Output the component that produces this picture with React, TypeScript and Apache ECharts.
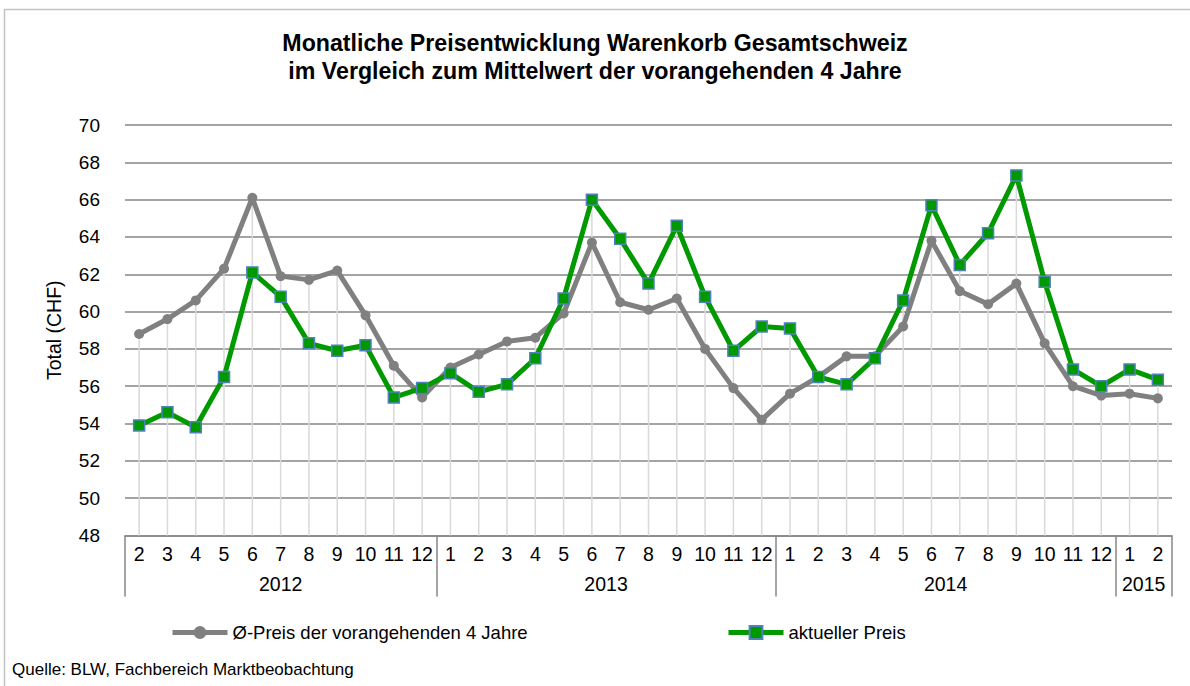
import React, { useEffect, useRef } from "react";
import * as echarts from "echarts";

const months = [
  "2", "3", "4", "5", "6", "7", "8", "9", "10", "11", "12",
  "1", "2", "3", "4", "5", "6", "7", "8", "9", "10", "11", "12",
  "1", "2", "3", "4", "5", "6", "7", "8", "9", "10", "11", "12",
  "1", "2",
];
const years = ["2012", "2013", "2014", "2015"];
const yearBounds = [0, 11, 23, 35, 37];
const yearCenters = [5.5, 17, 29, 36];

const avgPrice = [
  58.8, 59.6, 60.6, 62.3, 66.1, 61.9, 61.7, 62.2, 59.8, 57.1, 55.4,
  57.0, 57.7, 58.4, 58.6, 59.9, 63.7, 60.5, 60.1, 60.7, 58.0, 55.9, 54.2,
  55.6, 56.5, 57.6, 57.6, 59.2, 63.8, 61.1, 60.4, 61.5, 58.3, 56.0, 55.5,
  55.6, 55.35,
];
const curPrice = [
  53.9, 54.6, 53.8, 56.5, 62.1, 60.8, 58.3, 57.9, 58.2, 55.4, 55.9,
  56.7, 55.7, 56.1, 57.5, 60.7, 66.0, 63.9, 61.5, 64.6, 60.8, 57.9, 59.2,
  59.1, 56.5, 56.1, 57.5, 60.6, 65.7, 62.5, 64.2, 67.3, 61.6, 56.9, 56.0,
  56.9, 56.35,
];

const seriesNames = ["Ø-Preis der vorangehenden 4 Jahre", "aktueller Preis"];
const FONT = "'Liberation Sans', Arial, sans-serif";

export default function App() {
  const ref = useRef<HTMLDivElement>(null);
  useEffect(() => {
    if (!ref.current) return;
    const chart = echarts.init(ref.current, null, { renderer: "svg" });
    const dropData = months.map((_, i) => [i, Math.max(avgPrice[i], curPrice[i])]);
    const legendBase = {
      top: 623,
      padding: 0,
      itemWidth: 55,
      itemHeight: 16,
      lineStyle: { width: 5 },
      textStyle: { fontFamily: FONT, fontSize: 18.5, color: "#000" },
    };
    chart.setOption({
      animation: false,
      backgroundColor: "#ffffff",
      textStyle: { fontFamily: FONT },
      legend: [
        { ...legendBase, data: [seriesNames[0]], left: 170 },
        { ...legendBase, data: [seriesNames[1]], left: 726 },
      ],
      grid: { left: 125, right: 18, top: 125, bottom: 150.5 },
      xAxis: [
        {
          type: "category",
          data: months,
          boundaryGap: true,
          axisLine: { show: true, lineStyle: { color: "#868686", width: 1.5 } },
          axisTick: { show: false },
          axisLabel: {
            interval: 0,
            margin: 8,
            fontFamily: FONT,
            fontSize: 19.5,
            color: "#000",
          },
          splitLine: { show: false },
        },
        {
          type: "value",
          position: "bottom",
          min: 0,
          max: 37,
          axisLine: { show: false },
          splitLine: { show: false },
          axisTick: {
            show: true,
            customValues: yearBounds,
            length: 61,
            lineStyle: { color: "#868686", width: 1.5 },
          },
          axisLabel: {
            customValues: yearCenters,
            margin: 38,
            fontFamily: FONT,
            fontSize: 19.5,
            color: "#000",
            formatter: (v: number) => {
              const k = yearCenters.indexOf(v);
              return k >= 0 ? years[k] : "";
            },
          },
        },
      ],
      yAxis: {
        type: "value",
        min: 48,
        max: 70,
        interval: 2,
        name: "Total (CHF)",
        nameLocation: "middle",
        nameGap: 61,
        nameTextStyle: { fontFamily: FONT, fontSize: 19.5, color: "#000" },
        axisLine: { show: false },
        axisTick: { show: false },
        axisLabel: { margin: 25, fontFamily: FONT, fontSize: 19, color: "#000" },
        splitLine: { show: true, lineStyle: { color: "#868686", width: 1.5 } },
      },
      graphic: [
        {
          type: "rect",
          shape: { x: 4.5, y: 9.5, width: 1200, height: 700 },
          style: { fill: "none", stroke: "#c3c3c3", lineWidth: 1.5 },
          silent: true,
          z: -10,
        },
        {
          type: "text",
          x: 595,
          y: 29,
          style: {
            text: "Monatliche Preisentwicklung Warenkorb Gesamtschweiz\nim Vergleich zum Mittelwert der vorangehenden 4 Jahre",
            fontFamily: FONT,
            fontSize: 23.2,
            fontWeight: "bold",
            lineHeight: 28,
            fill: "#000",
            align: "center",
            verticalAlign: "top",
          },
        },
        {
          type: "text",
          x: 12,
          y: 661,
          style: {
            text: "Quelle: BLW, Fachbereich Marktbeobachtung",
            fontFamily: FONT,
            fontSize: 17,
            fill: "#000",
          },
        },
      ],
      series: [
        {
          type: "custom",
          name: "drop",
          silent: true,
          z: 1,
          data: dropData,
          renderItem: (params: any, api: any) => {
            const i = api.value(0);
            const top = api.value(1);
            const p1 = api.coord([i, top]);
            const p2 = api.coord([i, 48]);
            return {
              type: "line",
              shape: { x1: p1[0], y1: p1[1], x2: p2[0], y2: p2[1] },
              style: { stroke: "#d9d9d9", lineWidth: 1.5 },
            };
          },
        },
        {
          type: "line",
          name: seriesNames[0],
          data: avgPrice,
          z: 3,
          symbol: "circle",
          symbolSize: 10,
          lineStyle: { color: "#808080", width: 5 },
          itemStyle: { color: "#808080" },
        },
        {
          type: "line",
          name: seriesNames[1],
          data: curPrice,
          z: 4,
          symbol: "rect",
          symbolSize: 11,
          lineStyle: { color: "#009900", width: 5 },
          itemStyle: { color: "#009900", borderColor: "#4f81bd", borderWidth: 1.5 },
        },
      ],
    });
    return () => chart.dispose();
  }, []);
  return (
    <div
      ref={ref}
      style={{ position: "fixed", left: 0, top: 0, width: 1190, height: 686 }}
    />
  );
}
